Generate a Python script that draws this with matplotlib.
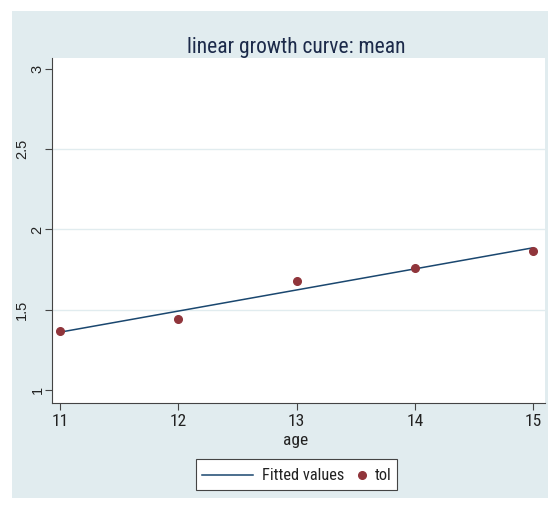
import numpy as np
import matplotlib.pyplot as plt
from matplotlib.patches import Rectangle
from matplotlib.lines import Line2D
from matplotlib import transforms

plt.rcParams['font.family'] = ['Roboto Condensed', 'Liberation Sans', 'DejaVu Sans']

# mean tolerance by age
age = [11, 12, 13, 14, 15]
tol = [1.368, 1.442, 1.679, 1.760, 1.866]
yticks = [1, 1.5, 2, 2.5, 3]
xticks = [11, 12, 13, 14, 15]

# linear fit for the "Fitted values" line
slope, intercept = np.polyfit(age, tol, 1)
fitted = [intercept + slope * a for a in age]

navy = '#1a476f'
maroon = '#90353b'
bg = '#e1ecef'
ink = '#222222'
W, H = 552, 509


def fx(px):
    return px / W


def fy(py):
    return 1 - py / H


fig = plt.figure(figsize=(W / 100, H / 100), dpi=100)
fig.patch.set_facecolor('white')
fig.patches.append(Rectangle((fx(12), fy(498)), fx(536), 487 / H,
                             transform=fig.transFigure, facecolor=bg,
                             edgecolor='none', zorder=-10))

ax = fig.add_axes([fx(52), fy(403), fx(493), 345 / H])
ax.set_facecolor('white')

for v in yticks[1:-1]:
    ax.axhline(v, color=bg, lw=1.0, zorder=0)

ax.plot(age, fitted, color=navy, lw=1.1, zorder=2)
ax.plot(age, tol, 'o', color=maroon, ms=5.5, zorder=3)

ax.set_xlim(10.932, 15.101)
ax.set_ylim(0.919, 3.068)
ax.set_xticks(xticks)
ax.set_yticks(yticks)
ax.set_yticklabels([])
ax.tick_params(axis='both', direction='out', length=5, width=0.8,
               color='#444444', labelsize=12.5, labelcolor=ink)
ax.tick_params(axis='x', pad=3)

# rotated y labels: short labels sit closer to the axis
ylab_tr = transforms.blended_transform_factory(fig.transFigure, ax.transData)
for v in yticks:
    s = f'{v:g}'
    xc = 37.5 if len(s) == 1 else 22
    ax.text(fx(xc), v, s, transform=ylab_tr, rotation=90, ha='center',
            va='center', fontsize=10.5, color=ink, family='Liberation Sans')

for s in ['top', 'right']:
    ax.spines[s].set_visible(False)
for s in ['left', 'bottom']:
    ax.spines[s].set_color('#444444')
    ax.spines[s].set_linewidth(0.8)

fig.text(fx(296.5), fy(53), 'linear growth curve: mean', ha='center',
         va='baseline', fontsize=15.5, color='#1c2a4a')
fig.text(fx(296), fy(440), 'age', ha='center', va='center',
         fontsize=12.5, color=ink)

# legend box below the axis title
fig.patches.append(Rectangle((fx(196), fy(490)), fx(201), 31 / H,
                             transform=fig.transFigure, facecolor='white',
                             edgecolor='#444444', lw=0.8))
fig.add_artist(Line2D([fx(202), fx(253)], [fy(475), fy(475)],
                      transform=fig.transFigure, color=navy, lw=1.1))
fig.add_artist(Line2D([fx(362)], [fy(475)], transform=fig.transFigure,
                      ls='none', marker='o', color=maroon, ms=5.5))
fig.text(fx(262), fy(475), 'Fitted values', ha='left', va='center',
         fontsize=11.8, color=ink)
fig.text(fx(375), fy(475), 'tol', ha='left', va='center',
         fontsize=11.8, color=ink)

fig.savefig('out.png', dpi=100)
